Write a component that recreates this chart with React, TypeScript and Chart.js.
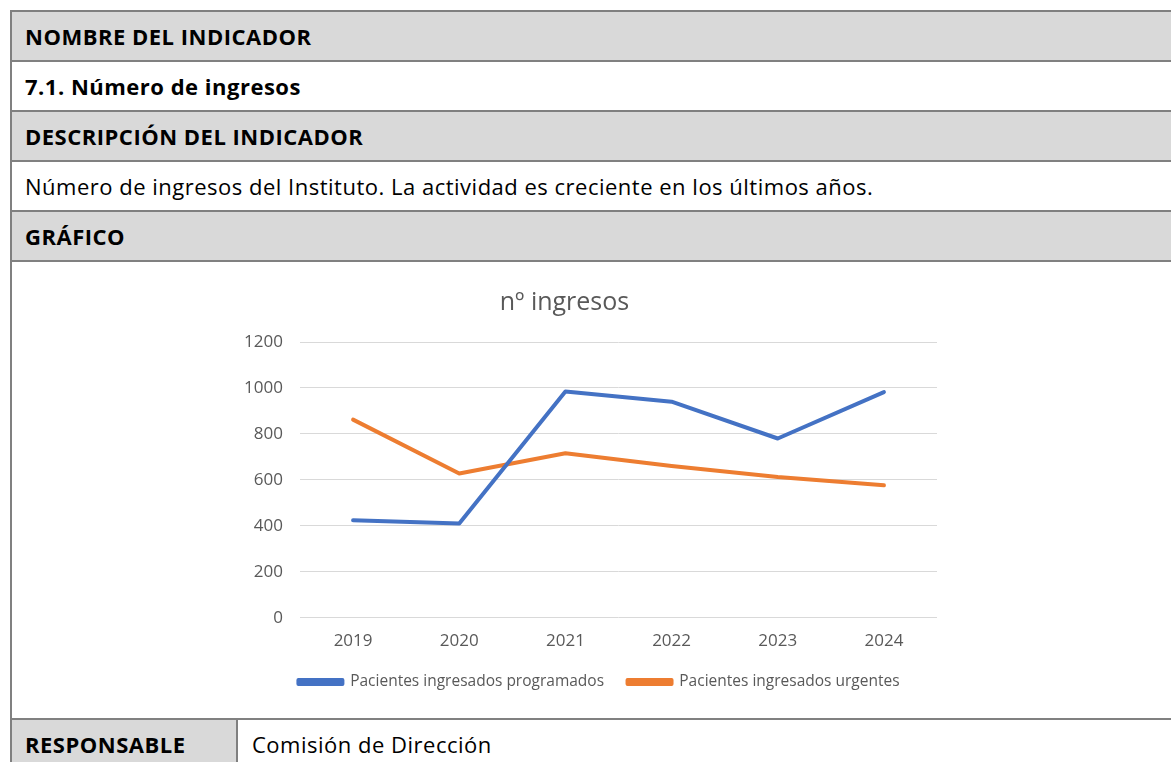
import React, { useEffect, useRef } from "react";
import { Chart, registerables } from "chart.js";

Chart.register(...registerables);

const years = ["2019", "2020", "2021", "2022", "2023", "2024"];
const programados = [424, 410, 985, 940, 780, 982];
const urgentes = [862, 628, 716, 660, 612, 576];
const yMin = 0;
const yMax = 1200;
const yStep = 200;
const seriesLabels = ["Pacientes ingresados programados", "Pacientes ingresados urgentes"];
const seriesColors = ["#4472C4", "#ED7D31"];
const chartTitle = "nº ingresos";

const rowTexts = [
  "NOMBRE DEL INDICADOR",
  "7.1. Número de ingresos",
  "DESCRIPCIÓN DEL INDICADOR",
  "Número de ingresos del Instituto. La actividad es creciente en los últimos años.",
  "GRÁFICO",
];
const rowBold = [true, true, true, false, true];
const rowGray = [true, false, true, false, true];
const respLabel = "RESPONSABLE";
const respValue = "Comisión de Dirección";

const FONT = "'Open Sans', Lato, sans-serif";
const BORDER = "#808080";
const GRAY = "#d9d9d9";
const TEXT_SIZE = 22;
const TEXT_SPACING = "0.5px";

function LineChart() {
  const ref = useRef<HTMLCanvasElement | null>(null);
  useEffect(() => {
    if (!ref.current) return;
    const ds = (i: number, data: number[]) => ({
      label: seriesLabels[i],
      data,
      borderColor: seriesColors[i],
      backgroundColor: seriesColors[i],
      borderWidth: 4,
      pointRadius: 0,
      tension: 0,
      borderCapStyle: "round" as const,
      borderJoinStyle: "round" as const,
    });
    const chart = new Chart(ref.current, {
      type: "line",
      data: {
        labels: years,
        datasets: [ds(0, programados), ds(1, urgentes)],
      },
      options: {
        responsive: false,
        animation: false,
        layout: { padding: { left: 228, right: 210, top: 80, bottom: 18.3 } },
        plugins: {
          title: { display: false },
          tooltip: { enabled: false },
          legend: {
            position: "bottom",
            labels: {
              boxWidth: 44,
              boxHeight: 4,
              padding: 23.5,
              color: "#595959",
              font: { family: FONT, size: 15.5 },
            },
          },
        },
        scales: {
          x: {
            offset: true,
            grid: { display: false, drawTicks: false },
            border: { display: false },
            ticks: { color: "#595959", font: { family: FONT, size: 17 }, padding: 13 },
            afterFit: (s: any) => {
              s.height = 33;
            },
          },
          y: {
            min: yMin,
            max: yMax,
            ticks: {
              stepSize: yStep,
              color: "#595959",
              font: { family: FONT, size: 17 },
              padding: 17,
              callback: (v: any) => String(v),
            },
            grid: { color: "#d9d9d9", lineWidth: 1, drawTicks: false },
            border: { display: false },
            afterFit: (s: any) => {
              s.width = 60;
            },
          },
          yRight: {
            type: "linear",
            position: "right",
            display: true,
            min: yMin,
            max: yMax,
            grid: { display: false, drawTicks: false },
            ticks: { display: false },
            border: { display: false },
            afterFit: (s: any) => {
              s.width = 21;
            },
          },
        },
      },
    });
    return () => chart.destroy();
  }, []);
  return <canvas ref={ref} width={1156} height={456} style={{ width: 1156, height: 456, display: "block" }} />;
}

export default function App() {
  const rowTops = [10, 60, 110, 160, 210];
  return (
    <div
      style={{
        position: "absolute",
        left: 0,
        top: 0,
        width: 1171,
        height: 762,
        overflow: "hidden",
        background: "#fff",
        fontFamily: FONT,
        color: "#000",
      }}
    >
      {rowTexts.map((t, i) => (
        <div
          key={i}
          style={{
            position: "absolute",
            left: 10,
            top: rowTops[i],
            width: 1200,
            height: 52,
            boxSizing: "border-box",
            border: `2px solid ${BORDER}`,
            background: rowGray[i] ? GRAY : "#fff",
            display: "flex",
            alignItems: "center",
            paddingLeft: 13,
            paddingBottom: 1,
            fontSize: TEXT_SIZE,
            letterSpacing: TEXT_SPACING,
            fontWeight: rowBold[i] ? 700 : 400,
            whiteSpace: "nowrap",
          }}
        >
          {t}
        </div>
      ))}
      <div
        style={{
          position: "absolute",
          left: 10,
          top: 260,
          width: 1200,
          height: 460,
          boxSizing: "border-box",
          border: `2px solid ${BORDER}`,
          background: "#fff",
        }}
      />
      <div style={{ position: "absolute", left: 12, top: 262, width: 1156, height: 456 }}>
        <LineChart />
      </div>
      <div
        style={{
          position: "absolute",
          left: 414.5,
          top: 285,
          width: 300,
          textAlign: "center",
          fontSize: 25,
          lineHeight: "30px",
          color: "#595959",
        }}
      >
        {chartTitle}
      </div>
      <div
        style={{
          position: "absolute",
          left: 10,
          top: 718,
          width: 228,
          height: 60,
          boxSizing: "border-box",
          border: `2px solid ${BORDER}`,
          background: GRAY,
          paddingLeft: 13,
          paddingTop: 9,
          fontSize: TEXT_SIZE,
          letterSpacing: TEXT_SPACING,
          fontWeight: 700,
          whiteSpace: "nowrap",
        }}
      >
        {respLabel}
      </div>
      <div
        style={{
          position: "absolute",
          left: 236,
          top: 718,
          width: 1000,
          height: 60,
          boxSizing: "border-box",
          border: `2px solid ${BORDER}`,
          background: "#fff",
          paddingLeft: 14,
          paddingTop: 9,
          fontSize: TEXT_SIZE,
          letterSpacing: TEXT_SPACING,
          whiteSpace: "nowrap",
        }}
      >
        {respValue}
      </div>
    </div>
  );
}
